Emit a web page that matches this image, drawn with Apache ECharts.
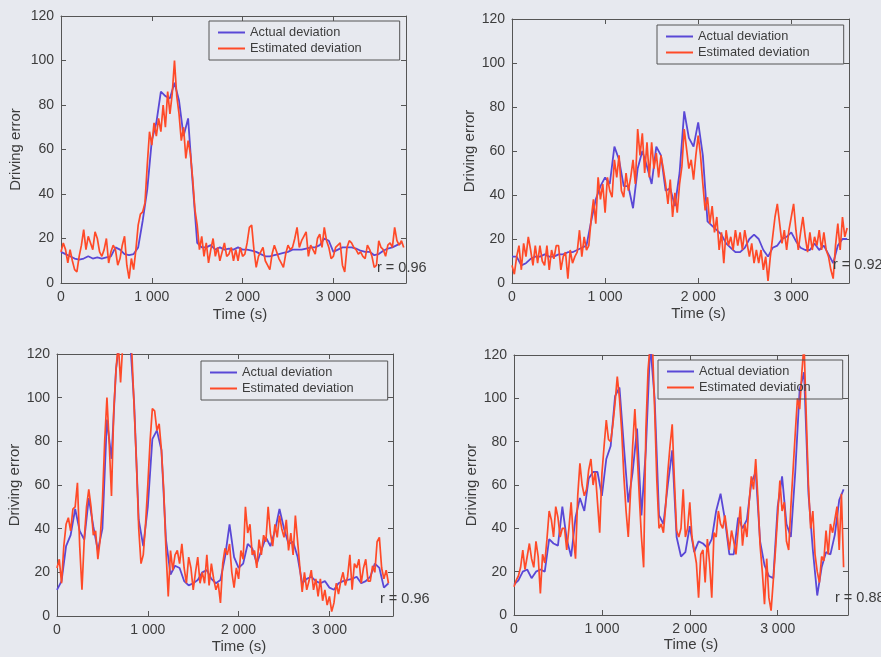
<!DOCTYPE html>
<html>
<head>
<meta charset="utf-8">
<script src="https://cdn.jsdelivr.net/npm/echarts@6/dist/echarts.min.js"></script>
<style>
html,body{margin:0;padding:0;background:#e7e9ef;}
#chart{width:881px;height:657px;}
</style>
</head>
<body>
<div id="chart"></div>
<script>
// ---------------- DATA ----------------
const seriesNames = ['Actual deviation', 'Estimated deviation'];
const xAxisTitle = 'Time (s)';
const yAxisTitle = 'Driving error';
const rLabels = ['r = 0.96', 'r = 0.92', 'r = 0.96', 'r = 0.88'];
const xMaxes = [3800, 3620, 3700, 3800];
const xInterval = 1000;
const yMin = 0, yMax = 120, yInterval = 20;
const actualStep = 50;     // seconds between samples of the actual deviation
const estimatedStep = 25;  // seconds between samples of the estimated deviation

// Panel 1 (top left)
const p1Actual = [
  14,13,12,11,10.5,11,12,11,11.5,11,
  11.5,12,16,15,13,12.5,13,16,28,42,
  64,72,86,84,83,90,82,66,74,45,
  18,16,16,17,15,16,15,15.5,15,16,
  15,15,14.5,14,13,12,12,12.5,13,13.5,
  14,15,15,15,15.5,16,16,17,20,19,
  14,15,16,16,16,15.5,14.5,14,14,12.5,
  13,14.5,15.5,16,17,18
];
const p1Estimated = [
  14,18,15,9,15,10,6,5,12,17,
  24,15,21,18,15,23,20,14,12,15,
  20,9,14,17,15,8,11,17,21,8,
  2,11,6,15,26,31,32,36,53,68,
  62,72,66,74,68,80,70,86,76,85,
  100,84,76,64,70,56,64,58,47,33,
  26,15,21,12,18,9,15,20,12,16,
  10,14,18,12,13,16,10,15,10,16,
  12,13,18,25,26,15,7,12,14,16,
  10,8,6,13,17,14,11,9,7,13,
  17,15,16,20,25,16,19,21,23,12,
  17,15,13,20,22,16,25,19,16,11,
  12,16,17,18,8,5,16,19,18,16,
  15,13,14,12,11,17,15,12,7,8,
  19,16,15,12,17,18,16,25,19,17,
  19,16
];

// Panel 2 (top right)
const p2Actual = [
  12,12,8,9,11,12,12,13,12,12,
  13,13,14,14,15,16,17,28,38,44,
  48,45,62,56,44,44,34,52,60,53,
  45,62,58,42,43,35,50,78,66,62,
  73,58,28,26,24,22,18,16,14,14,
  16,20,22,20,15,12,16,17,20,21,
  23,19,16,15,15,18,15,17,13,9,
  17,20,20
];
const p2Estimated = [
  8,4,12,17,6,18,12,21,15,8,
  17,9,17,10,8,17,6,15,11,17,
  17,6,12,14,2,15,9,12,14,24,
  12,21,15,17,29,38,27,48,38,45,
  32,48,42,39,56,48,58,42,39,50,
  42,48,56,45,70,58,68,50,64,48,
  64,52,59,48,58,52,45,36,47,30,
  41,32,45,53,70,61,52,56,47,58,
  67,58,45,33,39,27,35,23,30,15,
  23,9,24,17,21,15,24,17,23,15,
  24,18,12,18,9,15,9,15,6,12,
  1,12,21,30,36,27,18,24,15,24,
  30,36,24,15,23,30,21,14,23,15,
  21,17,24,15,23,15,12,6,2,17,
  27,15,30,21,25
];

// Panel 3 (bottom left)
const p3Actual = [
  12,16,32,37,49,39,35,54,41,30,
  40,90,72,113,130,130,130,97,44,32,
  50,81,85,76,35,19,23,22,16,14,
  15,16.5,20,21,17,15,16.5,27,42,27,
  22,24,33,31,24,30,36,32,39,49,
  40,33,34,27,15,17,18,16,15,16,
  13,12,15,16,16.5,17,18,15,16,18,
  24,22,13,15
];
const p3Estimated = [
  22,26,15,32,42,45,39,49,50,61,
  32,12,35,50,58,50,37,39,26,35,
  52,80,100,79,55,94,113,125,107,125,
  125,125,125,120,95,70,40,24,28,42,
  60,80,95,94,85,88,76,58,30,9,
  30,21,28,30,24,33,22,15,27,22,
  12,20,27,15,20,15,28,14,24,17,
  12,15,6,24,31,28,33,20,13,22,
  17,30,26,50,38,42,28,30,22,35,
  28,37,34,50,38,32,42,36,46,40,
  36,44,30,38,28,46,34,22,11,20,
  12,16,21,12,17,9,17,7,12,5,
  9,2,6,15,10,16,20,14,18,28,
  12,24,22,26,15,22,26,16,16,23,
  20,34,36,22,17,21,15
];

// Panel 4 (bottom right)
const p4Actual = [
  14,16,20,21,17,20,21,20,35,33,
  32,50,35,27,45,54,48,63,66,66,
  55,72,78,101,105,78,52,66,86,46,
  76,125,100,46,42,60,76,36,27,29,
  41,29,34,33,31,35,48,56,44,28,
  28,45,40,44,61,66,34,23,18,17,
  50,64,42,36,66,104,112,56,30,9,
  22,29,28,37,53,58
];
const p4Estimated = [
  13,16,18,22,30,21,27,33,26,22,
  34,27,10,28,24,35,48,44,36,50,
  45,36,40,40,30,40,52,36,26,55,
  70,60,55,58,67,72,60,66,52,38,
  65,78,90,81,80,88,98,110,100,85,
  64,48,36,56,78,95,76,55,36,22,
  85,113,125,125,95,62,40,42,38,50,
  66,78,88,62,39,36,40,58,36,40,
  52,36,30,24,8,28,30,15,35,24,
  8,38,36,48,42,40,46,38,30,39,
  34,28,39,50,32,42,36,52,64,58,
  72,54,32,20,5,26,8,2,16,30,
  46,62,48,52,34,30,50,67,84,100,
  95,112,125,92,60,40,48,28,20,15,
  27,25,39,28,42,38,44,50,30,56,
  22
];

const actualSets = [p1Actual, p2Actual, p3Actual, p4Actual];
const estimatedSets = [p1Estimated, p2Estimated, p3Estimated, p4Estimated];

// ---------------- LAYOUT / STYLE ----------------
const layout = [
  {left:61,  top:16,  width:345, height:267, lg:{left:209, top:21, padR:38}, yGap:38,   xGap:24.5, xShift:13, r:[377,268]},
  {left:512, top:19,  width:337, height:264, lg:{left:657, top:25, padR:34}, yGap:32.5, xGap:23,   xShift:36, r:[833,265]},
  {left:57,  top:354, width:336, height:262, lg:{left:201, top:361, padR:34}, yGap:34.5, xGap:23,  xShift:28, r:[380,599]},
  {left:514, top:355, width:334, height:260, lg:{left:658, top:360, padR:32}, yGap:34.5, xGap:22.5, xShift:20, r:[835,598]}
];
const colActual = '#5a48d6';
const colEstimated = '#ff4a28';
const axisCol = '#555';
const textCol = '#3c3c3c';
const fontFam = '"Liberation Sans", Arial, Helvetica, sans-serif';

function fmtThousands(v) {
  if (v % 1000 !== 0) return '';
  return String(v).replace(/\B(?=(\d{3})+(?!\d))/g, ' ');
}

const grids = [], xAxes = [], yAxes = [], series = [], legends = [], graphics = [];

layout.forEach((L, i) => {
  grids.push({left: L.left, top: L.top, width: L.width, height: L.height, show: false, containLabel: false, outerBoundsMode: 'none'});
  const tick = {show: true, inside: true, length: 5, lineStyle: {color: axisCol, width: 1}};
  const line = {show: true, onZero: false, lineStyle: {color: axisCol, width: 1}};
  xAxes.push({
    gridIndex: i, type: 'value', position: 'bottom', min: 0, max: xMaxes[i], interval: xInterval,
    axisLine: line, axisTick: tick, splitLine: {show: false},
    axisLabel: {color: textCol, fontSize: 14, margin: 7, fontFamily: fontFam, formatter: fmtThousands},
    name: xAxisTitle, nameLocation: 'middle', nameGap: L.xGap,
    nameTextStyle: {color: textCol, fontSize: 15, fontFamily: fontFam, padding: [0, 0, 0, L.xShift]}
  });
  xAxes.push({
    gridIndex: i, type: 'value', position: 'top', min: 0, max: xMaxes[i], interval: xInterval,
    axisLine: line, axisTick: tick, splitLine: {show: false}, axisLabel: {show: false}
  });
  yAxes.push({
    gridIndex: i, type: 'value', position: 'left', min: yMin, max: yMax, interval: yInterval,
    axisLine: line, axisTick: tick, splitLine: {show: false},
    axisLabel: {color: textCol, fontSize: 14, margin: 7, fontFamily: fontFam},
    name: yAxisTitle, nameLocation: 'middle', nameGap: L.yGap,
    nameTextStyle: {color: textCol, fontSize: 15, fontFamily: fontFam}
  });
  yAxes.push({
    gridIndex: i, type: 'value', position: 'right', min: yMin, max: yMax, interval: yInterval,
    axisLine: line, axisTick: tick, splitLine: {show: false}, axisLabel: {show: false}
  });
  series.push({
    name: seriesNames[0], type: 'line', xAxisIndex: i * 2, yAxisIndex: i * 2,
    data: actualSets[i].map((v, k) => [k * actualStep, v]),
    showSymbol: false, symbol: 'none', clip: true,
    lineStyle: {color: colActual, width: 1.8}, itemStyle: {color: colActual}
  });
  series.push({
    name: seriesNames[1], type: 'line', xAxisIndex: i * 2, yAxisIndex: i * 2,
    data: estimatedSets[i].map((v, k) => [k * estimatedStep, v]),
    showSymbol: false, symbol: 'none', clip: true,
    lineStyle: {color: colEstimated, width: 1.7}, itemStyle: {color: colEstimated}
  });
  legends.push({
    left: L.lg.left, top: L.lg.top, orient: 'vertical', icon: 'rect',
    itemWidth: 27, itemHeight: 2, itemGap: 1, padding: [4, L.lg.padR, 4, 9],
    borderColor: axisCol, borderWidth: 1, backgroundColor: 'transparent',
    selectedMode: false, data: seriesNames,
    textStyle: {color: textCol, fontSize: 12.8, lineHeight: 15, fontFamily: fontFam}
  });
  graphics.push({
    type: 'text', x: L.r[0], y: L.r[1], z: 100,
    style: {text: rLabels[i], fill: textCol, font: '14.5px ' + fontFam, verticalAlign: 'middle', align: 'left'}
  });
});

const chart = echarts.init(document.getElementById('chart'), null, {renderer: 'canvas'});
chart.setOption({
  animation: false,
  backgroundColor: '#e7e9ef',
  textStyle: {fontFamily: fontFam},
  grid: grids,
  xAxis: xAxes,
  yAxis: yAxes,
  legend: legends,
  series: series,
  graphic: graphics
});
</script>
</body>
</html>
